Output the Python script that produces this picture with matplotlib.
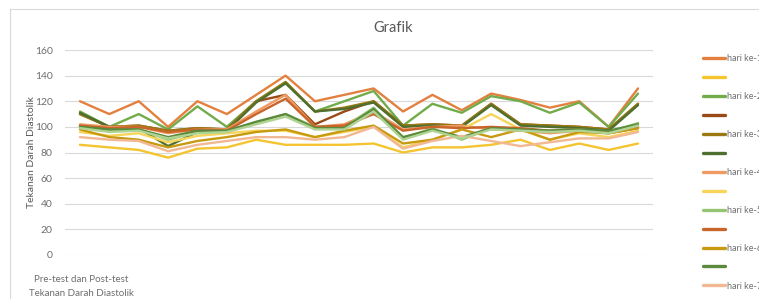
import matplotlib
matplotlib.use("Agg")
import matplotlib.pyplot as plt
from matplotlib.lines import Line2D

# ---- data ----
categories = list(range(1, 21))
hari1_pre  = [120,110,120,100,120,110,125,140,120,125,130,112,125,113,126,121,115,120,100,130]
hari1_post = [86,84,82,76,83,84,90,86,86,86,87,80,84,84,86,90,82,87,82,87]
hari2_pre  = [112,100,110,98,116,100,120,135,112,120,128,101,118,111,124,120,111,119,100,126]
hari2_post = [110,100,101,97,99,98,120,125,102,112,120,101,102,101,118,102,101,100,98,118]
hari3_pre  = [110,100,101,97,99,98,120,135,112,115,120,101,102,101,118,102,101,100,98,118]
hari3_post = [111,100,99,85,96,97,119,134,112,114,119,100,101,100,117,101,100,99,97,117]
hari4_pre  = [102,100,100,95,98,98,112,125,100,102,112,98,100,101,98,97,95,97,96,100]
hari4_post = [96,93,95,88,93,95,97,97,92,96,100,84,90,98,110,98,90,95,92,97]
hari5_pre  = [100,97,98,90,96,97,103,110,100,100,115,91,99,90,99,98,97,98,96,103]
hari5_post = [101,99,100,96,98,97,110,122,100,101,110,97,100,99,100,99,97,98,95,99]
hari6_pre  = [98,92,90,84,89,92,96,98,92,97,101,87,90,98,92,98,90,96,95,99]
hari6_post = [100,98,98,92,97,97,104,110,99,99,114,92,98,92,99,98,97,98,97,102]
hari7_pre  = [92,90,89,81,86,89,92,92,90,92,100,83,89,93,89,85,88,91,91,96]
hari7_post = [99,96,97,91,95,96,102,108,98,98,112,90,97,91,98,97,96,97,95,101]

series = [hari1_pre, hari1_post, hari2_pre, hari2_post, hari3_pre, hari3_post,
          hari4_pre, hari4_post, hari5_pre, hari5_post, hari6_pre, hari6_post,
          hari7_pre, hari7_post]
labels = ["hari ke-1", "", "hari ke-2", "", "hari ke-3", "", "hari ke-4", "",
          "hari ke-5", "", "hari ke-6", "", "hari ke-7", ""]
colors = ["#E4803F", "#F5C431", "#72AC4A", "#9A4A17", "#9A7A10", "#4F6F2E",
          "#EE9A62", "#F7D45A", "#95C473", "#C8652A", "#C79A12", "#5C8A3C",
          "#F2B793", "#AED393"]
yticks = [0, 20, 40, 60, 80, 100, 120, 140, 160]

plt.rcParams['font.family'] = ['Lato', 'DejaVu Sans']
W, H = 759, 299
fig = plt.figure(figsize=(W/100, H/100), dpi=100)

# chart border
fig.add_artist(Line2D([10/W, 10/W], [0, 1-9/H], color="#D9D9D9", lw=0.8, transform=fig.transFigure))
fig.add_artist(Line2D([10/W, 1], [1-9/H, 1-9/H], color="#D9D9D9", lw=0.8, transform=fig.transFigure))

ax = fig.add_axes([65.3/W, 1-255/H, (652.7-65.3)/W, 205/H])
x = list(range(len(categories)))
handles = []
for s, c in zip(series, colors):
    h, = ax.plot(x, s, color=c, lw=1.7, solid_joinstyle='round', solid_capstyle='round')
    handles.append(h)

ax.set_xlim(-0.5, len(categories)-0.5)
ax.set_ylim(0, 160)
ax.set_yticks(yticks)
ax.set_xticks([])
ax.grid(axis='y', color="#D9D9D9", lw=0.8)
ax.set_axisbelow(True)
for sp in ax.spines.values():
    sp.set_visible(False)
ax.tick_params(axis='y', length=0, pad=9, labelsize=7.5, labelcolor="#6E6E6E")

fig.text(393/W, 1-28/H, "Grafik", ha='center', va='center', fontsize=10.5, color="#595959")
fig.text(31/W, 1-152/H, "Tekanan Darah Diastolik", rotation=90, ha='center', va='center',
         fontsize=7.5, color="#595959")
fig.text(81/W, 1-280/H, "Pre-test dan Post-test", ha='center', va='center', fontsize=7, color="#6E6E6E")
fig.text(81/W, 1-293/H, "Tekanan Darah Diastolik", ha='center', va='center', fontsize=7, color="#6E6E6E")

leg = fig.legend(handles, labels, loc='upper left', bbox_to_anchor=(703/W, 1-54.4/H),
                 frameon=False, fontsize=6.5, handlelength=2.45, handletextpad=0.2,
                 labelspacing=1.1, borderpad=0, borderaxespad=0)
for t in leg.get_texts():
    t.set_color("#6E6E6E")
for lh in leg.get_lines():
    lh.set_linewidth(2.4)

fig.savefig("out.png", dpi=100)
